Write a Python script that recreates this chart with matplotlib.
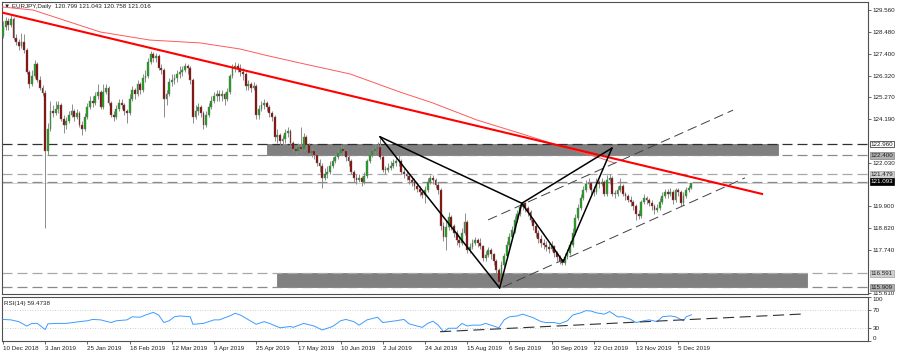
import matplotlib
matplotlib.use("Agg")
import matplotlib.pyplot as plt
import matplotlib.transforms as mtransforms
from matplotlib.patches import Rectangle
import numpy as np

plt.rcParams['font.family'] = ['Liberation Sans', 'DejaVu Sans']

# ---------------- data ----------------
title_text = "\u25BC EURJPY,Daily  120.799 121.043 120.758 121.016"
rsi_title = "RSI(14) 59.4738"

date_labels = ["10 Dec 2018", "3 Jan 2019", "25 Jan 2019", "18 Feb 2019", "12 Mar 2019",
               "3 Apr 2019", "25 Apr 2019", "17 May 2019", "10 Jun 2019", "2 Jul 2019",
               "24 Jul 2019", "15 Aug 2019", "6 Sep 2019", "30 Sep 2019", "22 Oct 2019",
               "13 Nov 2019", "5 Dec 2019"]
date_label_bars = [0, 16, 32, 48, 64, 80, 96, 112, 128, 144, 160, 176, 192, 208, 224, 240, 256]

opens = [
    128.30, 128.70, 129.00, 128.80, 129.10, 128.20, 128.00, 127.80, 128.00, 127.60,
    126.50, 125.90, 126.30, 126.90, 126.10, 125.70, 125.45, 122.60, 123.70, 124.60,
    124.50, 124.70, 124.90, 124.20, 123.90, 124.10, 124.40, 124.60, 124.30, 124.50,
    123.90, 123.70, 124.30, 124.80, 125.10, 125.00, 125.30, 125.50, 124.80, 125.50,
    125.70, 125.00, 124.40, 124.30, 124.70, 125.00, 124.90, 124.60, 124.50, 125.20,
    125.60, 125.40, 125.90, 125.60, 126.20, 126.30, 127.00, 127.40, 127.20, 127.30,
    126.70, 126.60, 125.20, 125.40, 126.00, 126.10, 126.20, 126.40, 126.50, 126.60,
    126.80, 126.70, 126.10, 124.30, 124.60, 124.80, 124.50, 123.90, 124.40, 124.80,
    125.10, 125.30, 125.40, 125.30, 125.40, 125.20, 125.50, 126.30, 126.70, 126.80,
    126.70, 126.50, 126.40, 125.80, 125.90, 125.70, 125.80, 124.40, 124.70, 124.90,
    125.00, 124.80, 124.50, 124.30, 123.30, 123.40, 123.10, 123.20, 123.50, 123.60,
    123.00, 122.70, 122.60, 122.80, 122.70, 123.30, 122.90, 122.50, 122.60, 122.40,
    122.00, 121.90, 121.30, 121.50, 121.60, 121.90, 122.10, 122.30, 122.50, 122.70,
    122.60, 122.30, 122.10, 121.60, 121.30, 121.20, 121.30, 121.10, 121.40, 122.10,
    122.40, 122.60, 122.70, 122.80, 122.30, 121.70, 121.70, 121.80, 121.90, 122.00,
    122.10, 122.10, 121.60, 121.50, 121.40, 121.20, 121.10, 120.90, 120.75, 120.60,
    120.45, 120.70, 121.10, 121.30, 121.20, 120.95, 120.70, 118.90, 118.40, 118.85,
    119.35, 118.90, 118.60, 118.25, 118.10, 118.60, 119.10, 117.75, 117.90, 118.10,
    118.25, 118.10, 117.95, 117.35, 117.50, 117.75, 117.55, 117.20, 116.75, 116.15,
    117.00, 117.45, 118.00, 118.40, 118.70, 119.20, 119.50, 119.85, 120.05, 119.80,
    119.60, 119.20, 118.90, 118.60, 118.30, 118.10, 118.00, 117.90, 117.80, 117.95,
    117.60, 117.40, 117.20, 117.10, 117.40, 117.60, 118.00, 118.60, 119.30, 119.80,
    120.30, 120.70, 121.00, 121.05, 120.70, 120.60, 121.10, 121.00, 121.10, 120.50,
    121.20, 121.30, 120.50, 120.50, 120.70, 120.90, 120.50, 120.40, 120.20, 120.10,
    119.90, 119.50, 119.40, 120.10, 120.30, 120.20, 120.05, 119.90, 119.70, 119.80,
    120.10, 120.40, 120.60, 120.50, 120.60, 120.20, 120.70, 120.60, 120.05, 120.40,
    120.70, 120.799]

highs = [
    129.00, 129.20, 129.15, 129.30, 129.20, 128.40, 128.15, 128.45, 128.40, 127.70,
    126.60, 126.60, 127.10, 127.00, 126.30, 125.85, 125.60, 124.00, 125.10, 124.90,
    125.10, 125.10, 125.00, 124.40, 124.30, 124.60, 124.95, 124.70, 124.70, 124.60,
    124.10, 124.50, 125.00, 125.30, 125.30, 125.50, 125.90, 125.60, 125.90, 125.90,
    125.80, 125.10, 124.60, 124.90, 125.20, 125.20, 125.00, 124.70, 125.40, 125.80,
    125.70, 126.10, 126.00, 126.40, 126.60, 127.20, 127.55, 127.50, 127.45, 127.40,
    126.90, 126.70, 125.60, 126.20, 126.40, 126.40, 126.60, 126.80, 126.80, 126.95,
    126.90, 126.80, 126.20, 124.90, 125.00, 124.90, 124.60, 124.60, 125.00, 125.30,
    125.50, 125.60, 125.60, 125.60, 125.50, 125.70, 126.40, 126.90, 127.00, 126.95,
    126.90, 126.70, 126.50, 126.10, 126.00, 126.00, 125.90, 124.90, 125.10, 125.20,
    125.10, 124.90, 124.60, 124.40, 123.70, 123.50, 123.40, 123.70, 123.80, 123.70,
    123.10, 122.90, 123.00, 123.80, 123.50, 123.40, 123.00, 122.80, 122.70, 122.50,
    122.20, 122.00, 121.80, 121.90, 122.10, 122.30, 122.50, 122.70, 122.95, 122.90,
    122.70, 122.40, 122.20, 121.70, 121.50, 121.50, 121.40, 121.60, 122.20, 122.60,
    122.80, 122.90, 123.05, 123.25, 122.40, 121.90, 122.00, 122.10, 122.20, 122.30,
    122.40, 122.20, 121.80, 121.70, 121.50, 121.40, 121.30, 121.00, 120.90, 120.70,
    120.90, 121.30, 121.45, 121.45, 121.30, 121.10, 120.80, 119.10, 119.20, 119.60,
    119.45, 119.00, 118.70, 118.40, 118.80, 119.55, 119.20, 118.10, 118.30, 118.40,
    118.35, 118.35, 118.00, 117.70, 117.90, 117.85, 117.60, 117.30, 116.85, 117.20,
    117.60, 118.20, 118.60, 118.90, 119.40, 119.70, 120.00, 120.10, 120.10, 119.90,
    119.70, 119.30, 119.00, 118.70, 118.50, 118.30, 118.20, 118.10, 118.20, 118.00,
    117.70, 117.50, 117.30, 117.60, 117.80, 118.20, 118.80, 119.50, 120.00, 120.50,
    120.90, 121.20, 121.30, 121.10, 120.90, 121.30, 121.20, 121.30, 121.20, 121.45,
    121.50, 121.40, 120.70, 120.90, 121.30, 121.00, 120.60, 120.50, 120.40, 120.20,
    120.00, 119.70, 120.20, 120.50, 120.40, 120.30, 120.20, 120.00, 120.00, 120.30,
    120.60, 120.75, 120.75, 120.80, 120.70, 120.80, 120.80, 120.70, 120.60, 120.85,
    120.95, 121.043]

lows = [
    128.20, 128.60, 128.60, 128.70, 128.10, 127.85, 127.60, 127.70, 127.45, 126.40,
    125.70, 125.80, 126.20, 126.00, 125.60, 125.30, 118.80, 122.40, 123.60, 124.30,
    124.40, 124.50, 124.10, 123.50, 123.70, 124.00, 124.30, 124.10, 124.20, 123.80,
    123.40, 123.60, 124.20, 124.70, 124.80, 124.90, 125.20, 124.70, 124.70, 125.40,
    124.90, 124.30, 124.10, 124.20, 124.60, 124.70, 124.40, 124.00, 124.40, 125.10,
    125.20, 125.30, 125.40, 125.50, 126.00, 126.20, 126.90, 127.00, 127.00, 126.60,
    126.40, 124.30, 124.90, 125.30, 125.80, 125.90, 126.00, 126.20, 126.30, 126.50,
    126.40, 125.90, 124.00, 124.20, 124.40, 124.30, 123.70, 123.80, 124.30, 124.70,
    125.00, 125.10, 125.10, 125.10, 124.90, 125.10, 125.40, 126.20, 126.50, 126.50,
    126.30, 126.10, 125.60, 125.60, 125.50, 125.60, 124.20, 124.20, 124.60, 124.70,
    124.60, 124.30, 124.10, 123.10, 123.00, 122.90, 122.90, 123.00, 123.30, 122.90,
    122.50, 122.40, 122.50, 122.50, 122.60, 122.70, 122.40, 122.30, 122.20, 121.90,
    121.60, 120.80, 121.20, 121.30, 121.50, 121.80, 122.00, 122.20, 122.40, 122.40,
    122.10, 121.90, 121.50, 121.10, 121.00, 121.10, 120.90, 121.00, 121.30, 122.00,
    122.30, 122.40, 122.60, 122.20, 121.60, 121.50, 121.60, 121.70, 121.80, 121.90,
    121.90, 121.50, 121.30, 121.20, 121.00, 120.90, 120.70, 120.60, 120.40, 120.30,
    120.05, 120.60, 121.00, 121.00, 120.80, 120.50, 118.70, 118.20, 117.75, 118.70,
    118.70, 118.40, 118.00, 117.90, 118.00, 118.50, 117.60, 117.60, 117.80, 118.00,
    117.90, 117.80, 117.20, 117.20, 117.40, 117.30, 117.00, 116.60, 115.87, 116.00,
    116.90, 117.40, 117.90, 118.30, 118.60, 119.10, 119.40, 119.70, 119.60, 119.40,
    119.10, 118.70, 118.40, 118.10, 117.90, 117.80, 117.70, 117.60, 117.70, 117.40,
    117.20, 117.05, 117.00, 117.00, 117.30, 117.50, 117.90, 118.50, 119.20, 119.70,
    120.20, 120.60, 120.80, 120.50, 120.40, 120.50, 120.80, 120.90, 120.40, 120.40,
    121.00, 120.40, 120.30, 120.40, 120.60, 120.40, 120.20, 120.10, 119.90, 119.70,
    119.20, 119.25, 119.30, 120.00, 120.00, 119.90, 119.70, 119.50, 119.60, 119.70,
    120.00, 120.30, 120.30, 120.40, 120.00, 120.10, 120.40, 119.90, 119.95, 120.30,
    120.60, 120.758]

closes = [
    128.70, 129.00, 128.80, 129.10, 128.20, 128.00, 127.80, 128.00, 127.60, 126.50,
    125.90, 126.30, 126.90, 126.10, 125.70, 125.45, 122.60, 123.70, 124.60, 124.50,
    124.70, 124.90, 124.20, 123.90, 124.10, 124.40, 124.60, 124.30, 124.50, 123.90,
    123.70, 124.30, 124.80, 125.10, 125.00, 125.30, 125.50, 124.80, 125.50, 125.70,
    125.00, 124.40, 124.30, 124.70, 125.00, 124.90, 124.60, 124.50, 125.20, 125.60,
    125.40, 125.90, 125.60, 126.20, 126.30, 127.00, 127.40, 127.20, 127.30, 126.70,
    126.60, 125.20, 125.40, 126.00, 126.10, 126.20, 126.40, 126.50, 126.60, 126.80,
    126.70, 126.10, 124.30, 124.60, 124.80, 124.50, 123.90, 124.40, 124.80, 125.10,
    125.30, 125.40, 125.30, 125.40, 125.20, 125.50, 126.30, 126.70, 126.80, 126.70,
    126.50, 126.40, 125.80, 125.90, 125.70, 125.80, 124.40, 124.70, 124.90, 125.00,
    124.80, 124.50, 124.30, 123.30, 123.40, 123.10, 123.20, 123.50, 123.60, 123.00,
    122.70, 122.60, 122.80, 122.70, 123.30, 122.90, 122.50, 122.60, 122.40, 122.00,
    121.90, 121.30, 121.50, 121.60, 121.90, 122.10, 122.30, 122.50, 122.70, 122.60,
    122.30, 122.10, 121.60, 121.30, 121.20, 121.30, 121.10, 121.40, 122.10, 122.40,
    122.60, 122.70, 122.80, 122.30, 121.70, 121.70, 121.80, 121.90, 122.00, 122.10,
    122.10, 121.60, 121.50, 121.40, 121.20, 121.10, 120.90, 120.75, 120.60, 120.45,
    120.70, 121.10, 121.30, 121.20, 120.95, 120.70, 118.90, 118.40, 118.85, 119.35,
    118.90, 118.60, 118.25, 118.10, 118.60, 119.10, 117.75, 117.90, 118.10, 118.25,
    118.10, 117.95, 117.35, 117.50, 117.75, 117.55, 117.20, 116.75, 116.15, 117.00,
    117.45, 118.00, 118.40, 118.70, 119.20, 119.50, 119.85, 120.05, 119.80, 119.60,
    119.20, 118.90, 118.60, 118.30, 118.10, 118.00, 117.90, 117.80, 117.95, 117.60,
    117.40, 117.20, 117.10, 117.40, 117.60, 118.00, 118.60, 119.30, 119.80, 120.30,
    120.70, 121.00, 121.05, 120.70, 120.60, 121.10, 121.00, 121.10, 120.50, 121.20,
    121.30, 120.50, 120.50, 120.70, 120.90, 120.50, 120.40, 120.20, 120.10, 119.90,
    119.50, 119.40, 120.10, 120.30, 120.20, 120.05, 119.90, 119.70, 119.80, 120.10,
    120.40, 120.60, 120.50, 120.60, 120.20, 120.70, 120.60, 120.05, 120.40, 120.70,
    120.799, 121.016]

price_ticks = [129.560, 128.480, 127.400, 126.320, 125.270, 124.190,
               122.030, 119.900, 118.820, 117.740, 115.610]

level_prices = [122.960, 122.400, 121.479, 121.093, 116.591, 115.909]
level_colors = ['#303030', '#8a8a8a', '#a8a8a8', '#8a8a8a', '#a8a8a8', '#8a8a8a']
bid_price = 121.016

# supply / demand zones: (start bar, end bar, low, high)
zone_start = [100.1, 103.9]
zone_end = [293.8, 304.8]
zone_low = [122.400, 115.909]
zone_high = [122.960, 116.591]

# long red trend line and the thin red moving-average curve
trend_bars = [-1.14, 287.8]
trend_prices = [129.46, 120.50]
ma_bars = [-1.1, 11.4, 36.8, 55.7, 74.7, 89.9, 99.3, 112.6, 131.6, 150.5, 163.0,
           179.7, 196.0, 211.2, 226.4, 232.0]
ma_prices = [129.72, 129.56, 128.48, 128.08, 127.94, 127.64, 127.34, 126.95, 126.41,
             125.52, 124.98, 124.14, 123.49, 122.86, 122.27, 122.02]

# harmonic pattern points X, A, B, C, D
pat_bars = [142.9, 188.3, 196.7, 212.4, 230.9]
pat_prices = [123.32, 115.87, 120.04, 117.16, 122.76]

# dashed channel lines
chan_up_bars = [183.9, 276.8]
chan_up_prices = [119.22, 124.63]
chan_lo_bars = [189.6, 281.3]
chan_lo_prices = [115.92, 121.29]

# RSI(14)
rsi_bars = [0, 3, 6, 9, 11, 13, 16, 17, 20, 24, 29, 32, 34, 37, 41, 43, 47, 49, 52, 54,
            57, 59, 61, 63, 65, 67, 71, 72, 76, 80, 82, 86, 88, 90, 92, 96, 99, 101, 105,
            109, 110, 114, 118, 121, 125, 128, 130, 133, 135, 138, 142, 144, 149, 152,
            154, 157, 159, 161, 163, 165, 167, 169, 172, 174, 176, 178, 181, 183, 186,
            188, 190, 192, 195, 197, 199, 201, 204, 206, 209, 211, 214, 216, 219, 221,
            223, 225, 228, 230, 233, 235, 238, 240, 243, 245, 248, 250, 253, 255, 258,
            259, 261]
rsi_vals = [49, 48, 44, 34, 40, 40, 26, 39, 40, 40, 44, 46, 49, 48, 42, 46, 48, 55, 54, 59,
            65, 59, 42, 46, 55, 57, 55, 38, 40, 48, 48, 57, 63, 59, 52, 38, 44, 40, 30,
            33, 31, 40, 34, 25, 33, 46, 49, 44, 36, 48, 54, 42, 46, 49,
            39, 34, 31, 40, 45, 36, 21, 29, 29, 40, 34, 36, 36, 40, 34,
            30, 48, 55, 57, 61, 57, 53, 44, 42, 42, 39, 46, 59, 64, 69,
            68, 64, 61, 67, 55, 55, 49, 42, 46, 48, 44, 55, 57, 55, 46,
            55, 59.47]
rsi_levels = [70, 30]
rsi_ticks = [100, 70, 30, 0]
rsi_trend_bars = [165.7, 303.3]
rsi_trend_vals = [21.1, 61.4]

# ---------------- figure ----------------
W, H = 900, 355
fig = plt.figure(figsize=(W / 100, H / 100), dpi=100)
fig.patch.set_facecolor('white')

def box(x0, y0, x1, y1):
    return [x0 / W, 1 - y1 / H, (x1 - x0) / W, (y1 - y0) / H]

ax = fig.add_axes(box(2, 2, 868, 294))
ax2 = fig.add_axes(box(2, 297, 868, 341))

xlim = (-0.379, 327.96)
ax.set_xlim(*xlim)
ax2.set_xlim(*xlim)
ax.set_ylim(115.571, 129.955)
ax2.set_ylim(0, 100)

FS = 4.5
spine_c = '#505050'
for a in (ax, ax2):
    a.set_facecolor('white')
    for s in a.spines.values():
        s.set_color(spine_c)
        s.set_linewidth(0.8)

# zones
for xs, xe, lo, hi in zip(zone_start, zone_end, zone_low, zone_high):
    ax.add_patch(Rectangle((xs, lo), xe - xs, hi - lo, facecolor='#808080',
                           edgecolor='#707070', linewidth=0.5, zorder=1))

# horizontal levels
for p, col in zip(level_prices, level_colors):
    ax.axhline(p, color=col, linewidth=0.9, linestyle=(0, (8, 4)), zorder=2)
ax.axhline(bid_price, color='#c8c8c8', linewidth=0.6, zorder=2)

# candles
x = np.arange(len(closes))
o = np.array(opens); h = np.array(highs); l = np.array(lows); c = np.array(closes)
ax.vlines(x, l, h, color='#8c8c8c', linewidth=0.7, zorder=3)
bull = c >= o
bottoms = np.minimum(o, c)
heights = np.maximum(np.abs(c - o), 0.035)
colors = np.where(bull, '#17a317', '#8b0000')
ax.bar(x, heights, bottom=bottoms, width=0.7, color=colors, edgecolor='#707070',
       linewidth=0.3, zorder=4)

# trend lines
ax.plot(ma_bars, ma_prices, color='#ff5a5a', linewidth=0.7, zorder=5)
ax.plot(trend_bars, trend_prices, color='#ff0000', linewidth=1.5, zorder=6)

# channel lines
ax.plot(chan_up_bars, chan_up_prices, color='#404040', linewidth=0.7,
        linestyle=(0, (10, 5)), zorder=5)
ax.plot(chan_lo_bars, chan_lo_prices, color='#404040', linewidth=0.7,
        linestyle=(0, (10, 5)), zorder=5)

# harmonic pattern
X, A, B, C, D = list(zip(pat_bars, pat_prices))
for p1, p2 in [(X, A), (A, B), (B, C), (C, D), (X, B), (B, D)]:
    ax.plot([p1[0], p2[0]], [p1[1], p2[1]], color='black', linewidth=1.1, zorder=7,
            solid_capstyle='round')

# price axis
ax.yaxis.tick_right()
ax.set_yticks(price_ticks)
ax.set_yticklabels([f"{v:.3f}" for v in price_ticks])
ax.tick_params(axis='y', direction='out', length=2, width=0.6, colors=spine_c,
               labelsize=FS, labelcolor='#202020', pad=1.5)
ax.set_xticks([])

# boxed labels for levels
trans = mtransforms.blended_transform_factory(ax.transAxes, ax.transData)
label_style = {
    122.960: ('#ffffff', '#202020', '#202020'),
    122.400: ('#b0b0b0', '#202020', '#808080'),
    121.479: ('#d0d0d0', '#202020', '#a0a0a0'),
    121.093: ('#000000', '#ffffff', '#000000'),
    116.591: ('#d0d0d0', '#202020', '#a0a0a0'),
    115.909: ('#b0b0b0', '#202020', '#808080'),
}
for p in level_prices:
    fc, tc, ec = label_style[p]
    ax.text(1.003, p, f"{p:.3f}", transform=trans, ha='left', va='center',
            fontsize=FS, color=tc, clip_on=False, zorder=10,
            bbox=dict(boxstyle='square,pad=0.15', facecolor=fc, edgecolor=ec, linewidth=0.5))

ax.text(0.0023, 0.986, title_text, transform=ax.transAxes, ha='left', va='center',
        fontsize=FS, color='#202020')

# RSI panel
for lv in rsi_levels:
    ax2.axhline(lv, color='#c0c0c0', linewidth=0.6, linestyle=(0, (1, 2)))
ax2.plot(rsi_bars, rsi_vals, color='#3d9bff', linewidth=0.7, zorder=3)
ax2.plot(rsi_trend_bars, rsi_trend_vals, color='#303030', linewidth=0.8,
         linestyle=(0, (10, 5)), zorder=4)
ax2.yaxis.tick_right()
ax2.set_yticks(rsi_ticks)
ax2.set_yticklabels([str(t) for t in rsi_ticks])
ax2.tick_params(axis='y', direction='out', length=2, width=0.6, colors=spine_c,
                labelsize=FS, labelcolor='#202020', pad=1.5)
for lab, t in zip(ax2.get_yticklabels(), rsi_ticks):
    if t == 100:
        lab.set_va('top')
    elif t == 0:
        lab.set_va('bottom')
ax2.text(0.0023, 0.86, rsi_title, transform=ax2.transAxes, ha='left', va='center',
         fontsize=FS, color='#202020')

ax2.set_xticks(date_label_bars)
ax2.set_xticklabels(date_labels)
ax2.tick_params(axis='x', direction='out', length=2, width=0.6, colors=spine_c,
                labelsize=FS, labelcolor='#202020', pad=1.5)
for lab in ax2.get_xticklabels():
    lab.set_ha('left')

fig.savefig('out.png', dpi=100, facecolor='white')
